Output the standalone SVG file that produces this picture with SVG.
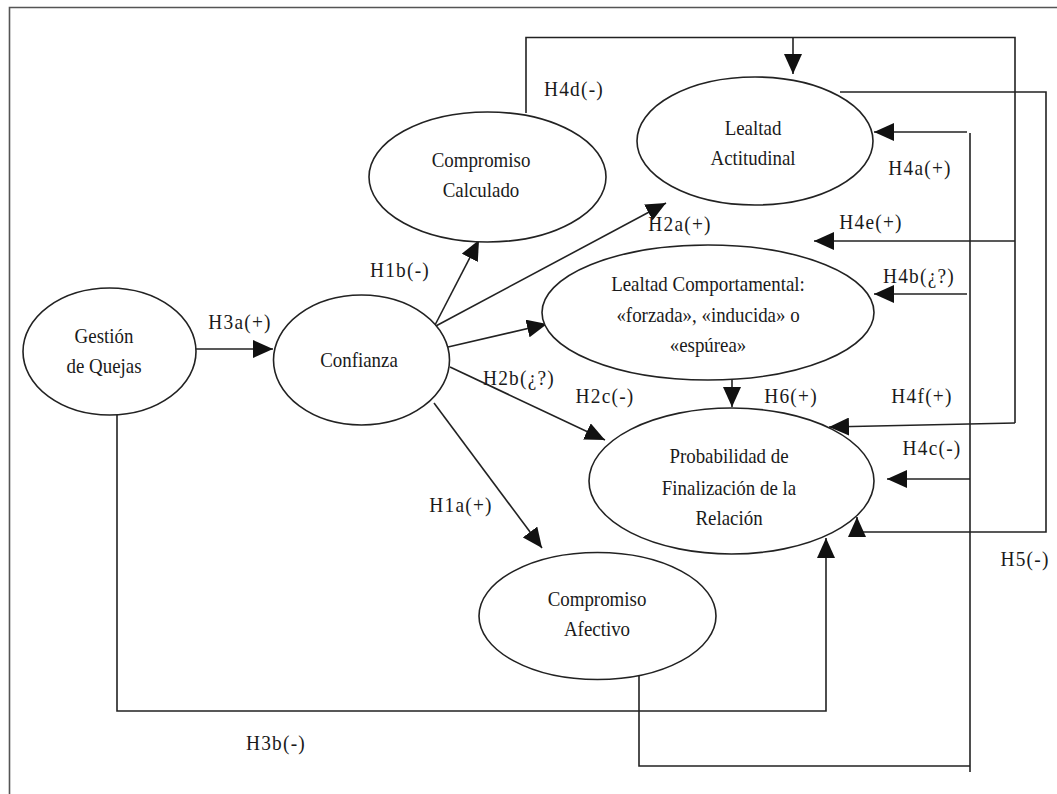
<svg xmlns="http://www.w3.org/2000/svg" width="1057" height="794" viewBox="0 0 1057 794">
<style>
.bg{fill:#fff}
.frame{fill:none;stroke:#555;stroke-width:1.6}
.node{fill:#fff;stroke:#222;stroke-width:1.6}
.nt{font-family:"Liberation Serif","Times New Roman",serif;font-size:22px;fill:#1a1a1a;text-anchor:middle}
.ln{fill:none;stroke:#222;stroke-width:1.6}
.arr{marker-end:url(#ah)}
.lb{font-family:"Liberation Serif","Times New Roman",serif;font-size:22px;fill:#1a1a1a;text-anchor:middle;letter-spacing:1.4px}
</style>
<defs>
<marker id="ah" markerUnits="userSpaceOnUse" markerWidth="21" markerHeight="18" refX="20" refY="9" orient="auto">
<path d="M0,0 L20,9 L0,18 Z" fill="#111"/>
</marker>
</defs>
<rect class="bg" x="0" y="0" width="1057" height="794"/>
<path class="frame" d="M9.5,800 V7.5 H1060"/>

<g id="connectors">
<path class="ln arr" d="M196,349 H273"/>
<path class="ln arr" d="M434,327 L479,240"/>
<path class="ln arr" d="M434,327 L666,203"/>
<path class="ln arr" d="M448,347 L547,324"/>
<path class="ln arr" d="M450,367 L605,440"/>
<path class="ln arr" d="M434,403 L542,548"/>
<path class="ln arr" d="M732,380 V407"/>
<path class="ln" d="M526,113 V37.5 H1015 V423"/>
<path class="ln arr" d="M793,37.5 V74"/>
<path class="ln arr" d="M1015,241 H814"/>
<path class="ln arr" d="M1015,423 L829,427"/>
<path class="ln arr" d="M840,92 H1046 V532 H857 V517"/>
<path class="ln" d="M639,675 V766 H970"/>
<path class="ln" d="M970,772 V133"/>
<path class="ln arr" d="M967,132 H874"/>
<path class="ln arr" d="M967,294 H874"/>
<path class="ln arr" d="M970,479 H887"/>
<path class="ln arr" d="M117,415 V711 H826 V538"/>
<g id="labels">
<text class="lb" transform="translate(240 329) scale(.88 1)">H3a(+)</text>
<text class="lb" transform="translate(400 277) scale(.88 1)">H1b(-)</text>
<text class="lb" transform="translate(574 96) scale(.88 1)">H4d(-)</text>
<text class="lb" transform="translate(680 231) scale(.88 1)">H2a(+)</text>
<text class="lb" transform="translate(519 385) scale(.88 1)">H2b(¿?)</text>
<text class="lb" transform="translate(605 403) scale(.88 1)">H2c(-)</text>
<text class="lb" transform="translate(791 403) scale(.88 1)">H6(+)</text>
<text class="lb" transform="translate(461 512) scale(.88 1)">H1a(+)</text>
<text class="lb" transform="translate(920 175) scale(.88 1)">H4a(+)</text>
<text class="lb" transform="translate(871 229) scale(.88 1)">H4e(+)</text>
<text class="lb" transform="translate(919 283) scale(.88 1)">H4b(¿?)</text>
<text class="lb" transform="translate(922 403) scale(.88 1)">H4f(+)</text>
<text class="lb" transform="translate(932 455) scale(.88 1)">H4c(-)</text>
<text class="lb" transform="translate(1025 566) scale(.88 1)">H5(-)</text>
<text class="lb" transform="translate(276 750) scale(.88 1)">H3b(-)</text>
</g>
</g>

<g id="gestion">
<ellipse class="node" cx="109.5" cy="351.5" rx="86.5" ry="63.5"/>
<text class="nt" transform="translate(104 343) scale(.86 1)">Gestión</text>
<text class="nt" transform="translate(104 373) scale(.86 1)">de Quejas</text>
</g>
<g id="confianza">
<ellipse class="node" cx="361.5" cy="360" rx="88" ry="65"/>
<text class="nt" transform="translate(359 367) scale(.86 1)">Confianza</text>
</g>
<g id="compromiso-calculado">
<ellipse class="node" cx="487.5" cy="177" rx="118.5" ry="65"/>
<text class="nt" transform="translate(481 167) scale(.86 1)">Compromiso</text>
<text class="nt" transform="translate(481 197) scale(.86 1)">Calculado</text>
</g>
<g id="lealtad-actitudinal">
<ellipse class="node" cx="755" cy="141" rx="118" ry="64"/>
<text class="nt" transform="translate(753 135) scale(.86 1)">Lealtad</text>
<text class="nt" transform="translate(753 165) scale(.86 1)">Actitudinal</text>
</g>
<g id="lealtad-comportamental">
<ellipse class="node" cx="708" cy="312.5" rx="166" ry="67.5"/>
<text class="nt" transform="translate(708 291) scale(.86 1)">Lealtad Comportamental:</text>
<text class="nt" transform="translate(708 322) scale(.86 1)">«forzada», «inducida» o</text>
<text class="nt" transform="translate(708 352) scale(.86 1)">«espúrea»</text>
</g>
<g id="probabilidad">
<ellipse class="node" cx="731.5" cy="481" rx="142.5" ry="73"/>
<text class="nt" transform="translate(729 463) scale(.86 1)">Probabilidad de</text>
<text class="nt" transform="translate(729 495) scale(.86 1)">Finalización de la</text>
<text class="nt" transform="translate(729 525) scale(.86 1)">Relación</text>
</g>
<g id="compromiso-afectivo">
<ellipse class="node" cx="597.5" cy="616" rx="118.5" ry="63.5"/>
<text class="nt" transform="translate(597 606) scale(.86 1)">Compromiso</text>
<text class="nt" transform="translate(597 636) scale(.86 1)">Afectivo</text>
</g>
</svg>
